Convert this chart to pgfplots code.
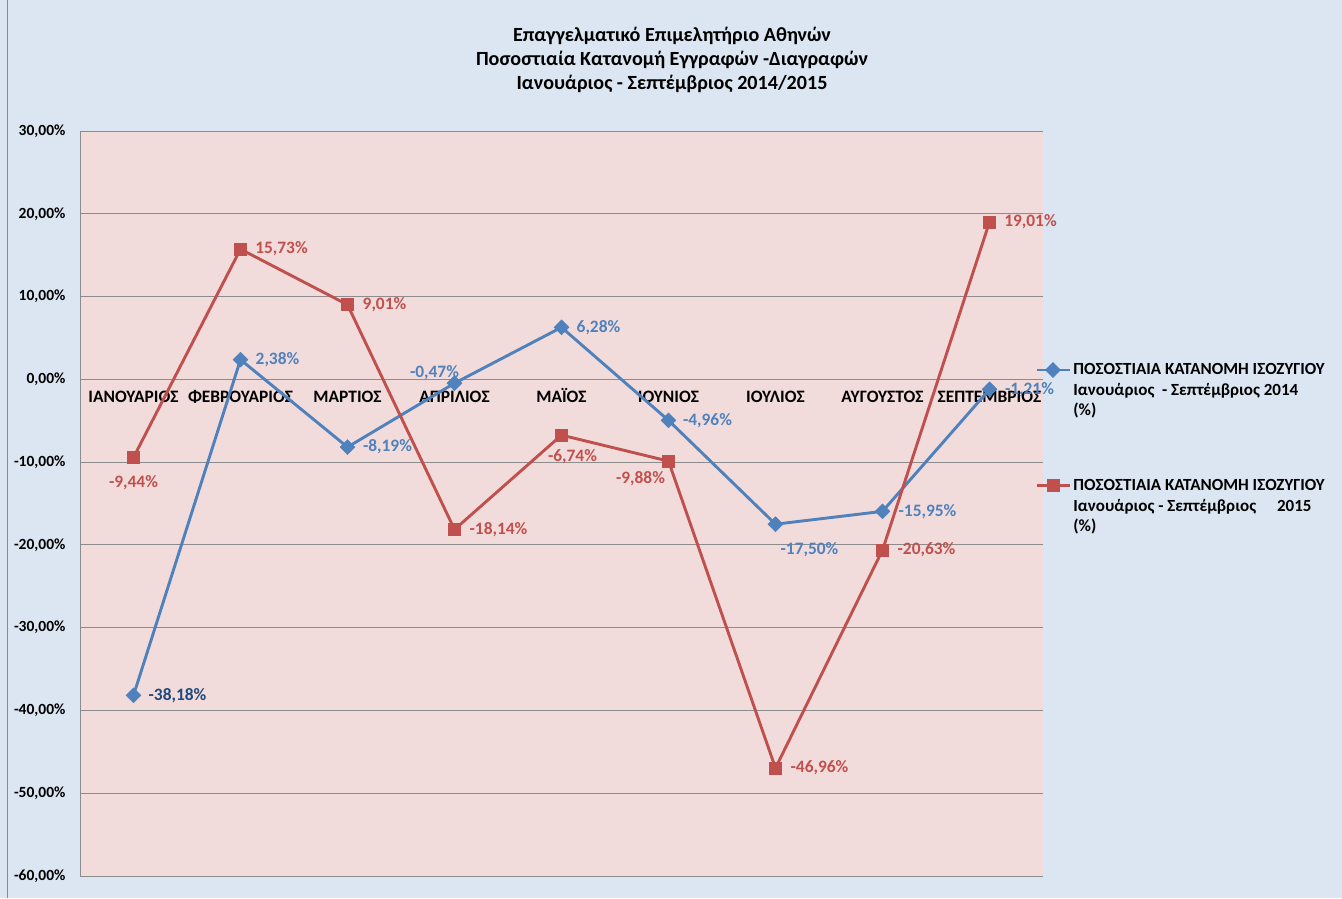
\documentclass[border=0pt]{standalone}
\usepackage{pgfplots}
\usepackage{pgfplotstable}
\pgfplotsset{compat=1.18}
\usepackage{fontspec}
\setmainfont{Carlito}
\definecolor{bgblue}{HTML}{DCE6F2}
\definecolor{plotpink}{HTML}{F2DCDB}
\definecolor{serblue}{HTML}{4F81BD}
\definecolor{serred}{HTML}{C0504D}
\definecolor{darkblue}{HTML}{1F497D}
\definecolor{gridgray}{HTML}{8C8C8C}

\pgfplotstableread{
x y dx dy lc
0 -38.18 44 0 1
1 2.38 37 0 0
2 -8.19 40 0 0
3 -0.47 -20 11 0
4 6.28 37 0 0
5 -4.96 39 0 0
6 -17.50 34 -25 0
7 -15.95 45 0 0
8 -1.21 40 0 0
}\bluedata

\pgfplotstableread{
x y dx dy lc
0 -9.44 0 -25 0
1 15.73 41 0 0
2 9.01 37 0 0
3 -18.14 44 0 0
4 -6.74 11 -22 0
5 -9.88 -28 -18 0
6 -46.96 44 0 0
7 -20.63 44 0 0
8 19.01 41 0 0
}\reddata

\begin{document}
\begin{tikzpicture}
\useasboundingbox (0,0) rectangle (1342pt,898pt);
\fill[bgblue] (0,0) rectangle (1342pt,898pt);
\draw[gridgray, line width=1pt] (7pt,0) -- (7pt,898pt);
\node[align=center, font=\bfseries\fontsize{20.1}{24}\selectfont] at (672pt,838pt)
  {Επαγγελματικό Επιμελητήριο Αθηνών\\Ποσοστιαία Κατανομή Εγγραφών -Διαγραφών\\Ιανουάριος - Σεπτέμβριος 2014/2015};
\begin{axis}[
  at={(80pt,22pt)}, anchor=south west,
  scale only axis, width=963pt, height=745pt,
  xmin=-0.5, xmax=8.5, ymin=-60, ymax=30,
  axis x line=middle, axis y line=left,
  hide obscured x ticks=false, hide obscured y ticks=false,
  axis line style={-, gridgray, line width=0.8pt},
  axis background/.style={fill=plotpink},
  ytick={-60,-50,...,30},
  ymajorgrids, grid style={gridgray, line width=0.8pt},
  major tick length=0pt,
  xtick={0,...,8},
  xticklabels={ΙΑΝΟΥΑΡΙΟΣ,ΦΕΒΡΟΥΑΡΙΟΣ,ΜΑΡΤΙΟΣ,ΑΠΡΙΛΙΟΣ,ΜΑΪΟΣ,ΙΟΥΝΙΟΣ,ΙΟΥΛΙΟΣ,ΑΥΓΟΥΣΤΟΣ,ΣΕΠΤΕΜΒΡΙΟΣ},
  yticklabel style={font=\bfseries\fontsize{15.5}{18}\selectfont, text=black, xshift=-11pt},
  xticklabel style={font=\bfseries\fontsize{17.4}{20}\selectfont, text=black,
     text height=12pt, text depth=3pt, yshift=-8pt},
  /pgf/number format/assume math mode=true,
  /pgf/number format/.cd, fixed, fixed zerofill, precision=2, use comma, /pgfplots/.cd,
  yticklabel={\pgfmathprintnumber{\tick}\%},
  nodes near coords={\ifdim\lcol pt>0.5pt\color{darkblue}\fi\pgfmathprintnumber{\pgfplotspointmeta}\%},
  point meta=y,
  visualization depends on={\thisrow{dx} \as \ldx},
  visualization depends on={\thisrow{dy} \as \ldy},
  visualization depends on={\thisrow{lc} \as \lcol},
  every node near coord/.append style={anchor=center, xshift=\ldx pt, yshift=\ldy pt,
     font=\bfseries\fontsize{17.4}{20}\selectfont},
  clip=false,
  legend style={at={(0.992,0.6906)}, anchor=north west, draw=none, fill=none,
     font=\bfseries\fontsize{17}{20.5}\selectfont, cells={align=left}, row sep=58pt,
     inner sep=0pt},
  legend cell align=left,
  legend image code/.code={\draw[mark repeat=2,mark phase=2,#1] plot coordinates {(0pt,20.5pt) (16pt,20.5pt) (33pt,20.5pt)};},
]
\addplot[serblue, line width=2.9pt, mark=square*, mark size=5.3pt, mark options={solid, rotate=45, line width=0.5pt}]
  table[x=x, y=y] {\bluedata};
\addlegendentry{ΠΟΣΟΣΤΙΑΙΑ ΚΑΤΑΝΟΜΗ ΙΣΟΖΥΓΙΟΥ\\Ιανουάριος \ - Σεπτέμβριος 2014\\(\%)}
\addplot[serred, line width=2.9pt, mark=square*, mark size=6pt, mark options={solid, line width=0.5pt}]
  table[x=x, y=y] {\reddata};
\addlegendentry{ΠΟΣΟΣΤΙΑΙΑ ΚΑΤΑΝΟΜΗ ΙΣΟΖΥΓΙΟΥ\\Ιανουάριος - Σεπτέμβριος \quad 2015\\(\%)}
\end{axis}
\end{tikzpicture}
\end{document}
